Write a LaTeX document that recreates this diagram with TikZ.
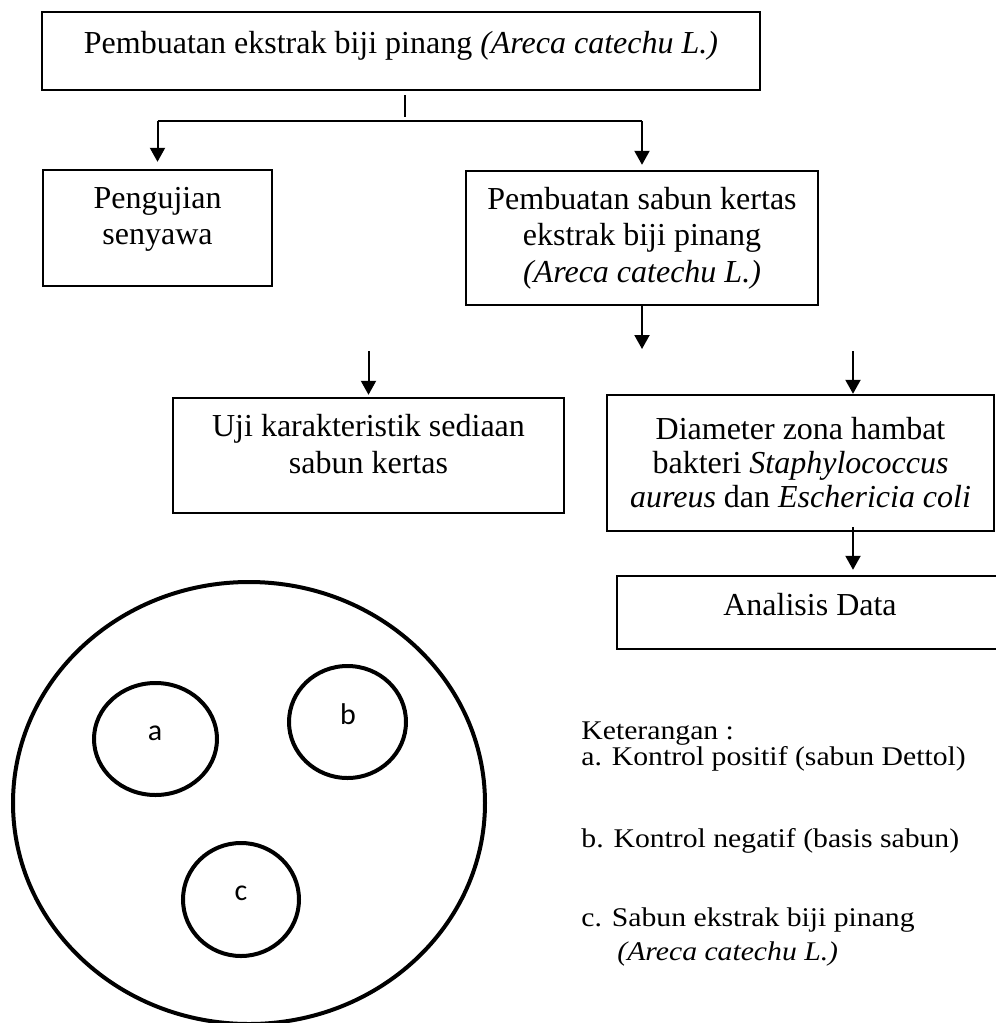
\documentclass[tikz,border=0pt]{standalone}
\usepackage{fontspec}
\setmainfont{Liberation Serif}
\newfontfamily\lgdfont[FakeStretch=1.1]{Liberation Serif}
\newfontfamily\spotfont{Carlito}
\usetikzlibrary{arrows.meta,positioning,calc}

\begin{document}
\begin{tikzpicture}[x=0.5pt,y=-0.5pt,
  box/.style={draw=black, line width=1.2pt, align=center, inner sep=0pt,
              font=\fontsize{16}{18.2}\selectfont},
  ar/.style={-{Triangle[length=7pt,width=7.5pt]}, line width=1pt},
  ln/.style={line width=1pt},
  dish/.style={line width=2pt},
  lgd/.style={anchor=base west, inner sep=0pt, font=\lgdfont\fontsize{13.5}{15}\selectfont},
  spot/.style={inner sep=0pt, font=\spotfont\fontsize{15}{17}\selectfont}]
\useasboundingbox (0,0) rectangle (996,1023);
% flow chart
\node[box, minimum width=359pt, minimum height=39pt, text depth=8.75pt] (top) at (401,51)
  {Pembuatan ekstrak biji pinang \textit{(Areca catechu L.)}};
\node[box, minimum width=114.5pt, minimum height=58pt, text depth=12pt] (senyawa) at (157.5,228)
  {Pengujian\\senyawa};
\node[box, minimum width=176pt, minimum height=67pt] (sabun) at (642,238)
  {Pembuatan sabun kertas\\ekstrak biji pinang\\\textit{(Areca catechu L.)}};
\node[box, minimum width=195.5pt, minimum height=57.5pt, text depth=11.5pt] (karakter) at (368.5,455.5)
  {Uji karakteristik sediaan\\sabun kertas};
\node[box, minimum width=193.5pt, minimum height=68pt, font=\fontsize{16}{17}\selectfont] (diameter) at (800.5,463)
  {Diameter zona hambat\\bakteri \textit{Staphylococcus}\\\textit{aureus} dan \textit{Eschericia coli}};
\node[box, minimum width=193pt, minimum height=36.5pt, text depth=8pt] (analisis) at (810,612.5)
  {Analisis Data};
\coordinate (bar) at (405,121);
\coordinate (s-end) at (642,349);
\coordinate (k-start) at (368.5,351);
\coordinate (d-start) at (853,351);
\draw[ln] ([xshift=2pt,yshift=-2pt]top.south) -- ++(0,22);
\draw[ln] (bar -| senyawa) -- (bar -| sabun);
\draw[ar, shorten >=3.5pt] (bar -| senyawa) -- (senyawa.north);
\draw[ar, shorten >=2.5pt] (bar -| sabun) -- (sabun.north);
\draw[ar] (sabun.south) -- (s-end);
\draw[ar, shorten >=1pt] (k-start) -- (karakter.north);
\draw[ar] (d-start) -- (d-start |- diameter.north);
\draw[ar, shorten >=2.5pt] ([yshift=2.5pt]d-start |- diameter.south) -- (d-start |- analisis.north);
% petri dish
\draw[dish] (249,803) ellipse [x radius=118pt, y radius=110.5pt];
\draw[dish] (155.5,739) ellipse [x radius=30.75pt, y radius=28pt];
\draw[dish] (347.5,722) ellipse [x radius=29.25pt, y radius=28pt];
\draw[dish] (241,899.5) ellipse [x radius=29pt, y radius=28.25pt];
\node[spot] (la) at (155,733) {a};
\node[spot] (lb) at (348,714) {b};
\node[spot] (lc) at (241,893) {c};
% legend
\node[lgd] (k0) at (581,739) {Keterangan :};
\node[lgd] (k1) at (581,765) {a. Kontrol positif (sabun Dettol)};
\node[lgd] (k2) at (581,847) {b. Kontrol negatif (basis sabun)};
\node[lgd] (k3) at (581,926) {c. Sabun ekstrak biji pinang};
\node[lgd] (k4) at (617,960) {\textit{(Areca catechu L.)}};
\end{tikzpicture}
\end{document}
